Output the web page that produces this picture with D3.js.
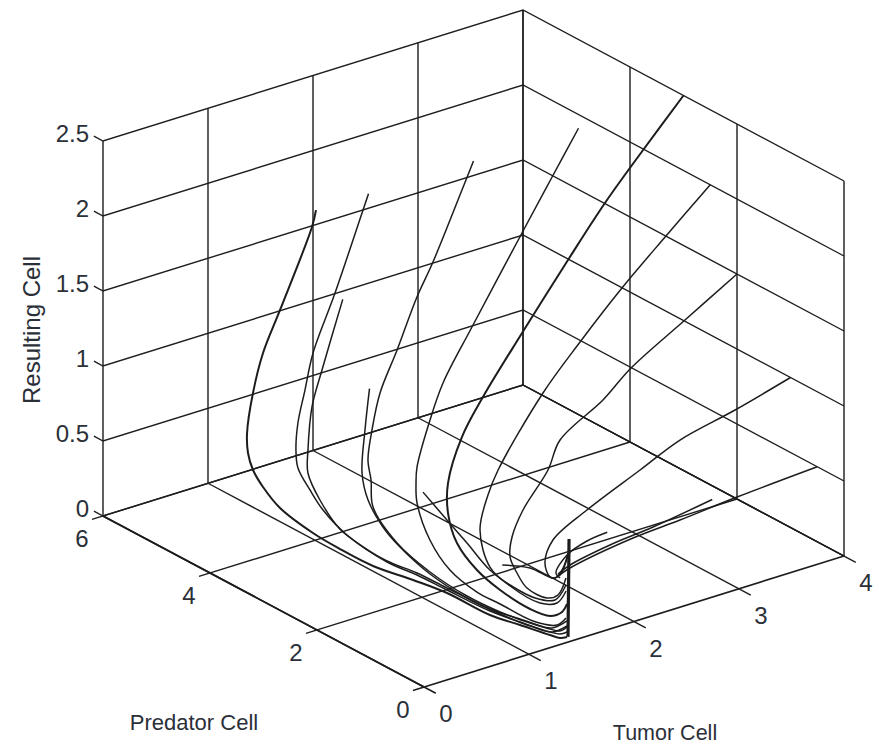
<!DOCTYPE html>
<html>
<head>
<meta charset="utf-8">
<script src="https://cdn.jsdelivr.net/npm/d3@7"></script>
<style>
    html, body { margin: 0; background: #fff; }
    text { font-family: "Liberation Sans", Arial, sans-serif; fill: #2b2f38; }
</style>
</head>
<body>
<div id="plot"></div>
<script>
// Axis ticks
const tumorTicks = [0, 1, 2, 3, 4];
const predatorTicks = [0, 2, 4, 6];
const resultingTicks = [0, 0.5, 1, 1.5, 2, 2.5];

// Trajectories, each row is [tumor, predator, resulting]
const trackA = [[0.5, 3, 2.5], [0.488, 3.052, 2.38], [0.342, 3.362, 1.8], [0.262, 3.523, 1.5], [0.258, 3.703, 1.2], [0.279, 3.855, 0.9], [0.313, 3.904, 0.75], [0.405, 3.991, 0.6], [0.527, 4.043, 0.45], [0.646, 3.959, 0.3], [0.731, 3.51, 0.2], [0.882, 3.302, 0.1], [0.974, 2.864, 0.05], [1.107, 2.378, 0.02], [1.198, 1.921, 0], [1.208, 1.138, 0], [1.276, 0.71, 0], [1.343, 0.282, 0], [1.37, 0.146, 0], [1.423, 0.12, 0]];
const trackB = [[1, 3, 2.5], [0.953, 3.01, 2.4], [0.779, 3.192, 1.85], [0.647, 3.344, 1.45], [0.604, 3.41, 1.2], [0.528, 3.393, 1], [0.55, 3.473, 0.8], [0.613, 3.559, 0.65], [0.691, 3.487, 0.5], [0.797, 3.452, 0.35], [0.913, 3.232, 0.2], [1.103, 2.855, 0.05], [1.221, 2.527, 0], [1.232, 1.988, 0], [1.253, 1.226, 0], [1.31, 0.775, 0], [1.377, 0.347, 0], [1.415, 0.234, 0], [1.479, 0.23, 0]];
const trackC = [[0.5, 2.5, 2], [0.34, 2.574, 1.55], [0.285, 2.654, 1.3], [0.284, 2.726, 1], [0.278, 2.715, 0.85], [0.384, 2.699, 0.65], [0.515, 2.583, 0.45], [0.71, 2.552, 0.3], [0.996, 2.645, 0.12], [1.243, 2.571, 0], [1.254, 2.032, 0], [1.276, 1.27, 0], [1.344, 0.842, 0], [1.411, 0.414, 0], [1.448, 0.3, 0], [1.536, 0.341, 0]];
const trackD = [[2, 3, 2.5], [1.908, 3.035, 2.32], [1.717, 3.202, 1.85], [1.649, 3.368, 1.6], [1.524, 3.494, 1.25], [1.36, 3.491, 1], [1.317, 3.557, 0.75], [1.293, 3.585, 0.55], [1.306, 3.553, 0.42], [1.25, 3.406, 0.28], [1.259, 2.974, 0.12], [1.282, 2.404, 0.03], [1.284, 1.717, 0], [1.303, 1.135, 0], [1.359, 0.684, 0], [1.434, 0.422, 0], [1.603, 0.474, 0]];
const trackE = [[0.5, 2, 1.5], [0.48, 2.045, 1.22], [0.485, 2.11, 0.92], [0.555, 2.135, 0.72], [0.712, 2.164, 0.5], [0.938, 2.326, 0.3], [1.226, 2.294, 0.05], [1.262, 1.673, 0], [1.28, 1.091, 0], [1.325, 0.618, 0], [1.389, 0.333, 0], [1.547, 0.363, 0]];
const trackF = [[3, 3, 2.5], [2.799, 3.099, 2.2], [2.579, 3.23, 1.85], [2.233, 3.486, 1.25], [2.02, 3.609, 0.9], [1.863, 3.544, 0.7], [1.728, 3.522, 0.42], [1.711, 3.507, 0.32], [1.661, 3.39, 0.22], [1.558, 2.947, 0.08], [1.441, 2.344, 0.02], [1.389, 1.736, 0], [1.393, 1.312, 0], [1.399, 0.709, 0], [1.498, 0.454, 0], [1.631, 0.547, 0]];
const trackG = [[4, 3, 2.5], [3.735, 3.235, 2.15], [3.5, 3.487, 1.8], [3.278, 3.742, 1.42], [2.974, 4.004, 0.95], [2.609, 4.019, 0.6], [2.37, 3.943, 0.4], [2.072, 3.618, 0.22], [1.903, 3.286, 0.12], [1.737, 2.793, 0.05], [1.637, 2.223, 0], [1.551, 1.622, 0], [1.517, 0.994, 0], [1.558, 0.701, 0], [1.675, 0.707, 0], [1.795, 0.85, 0]];
const trackH = [[4, 2.5, 2], [3.647, 2.651, 1.7], [3.32, 2.816, 1.4], [3.001, 2.973, 1.08], [2.677, 3.03, 0.8], [2.131, 2.797, 0.45], [2.008, 2.745, 0.32], [1.853, 2.59, 0.15], [1.715, 2.133, 0.02], [1.656, 1.641, 0], [1.644, 1.058, 0], [1.746, 0.941, 0], [1.936, 1.144, 0]];
const trackI = [[4, 2, 1.5], [3.71, 2.403, 1.18], [3.352, 2.709, 0.88], [3.127, 2.792, 0.7], [2.841, 3.033, 0.45], [2.684, 2.95, 0.3], [2.337, 2.736, 0.15], [2.102, 2.48, 0.07], [1.949, 2.217, 0.02], [1.844, 1.881, 0], [1.735, 1.48, 0], [1.743, 1.121, 0], [1.842, 1.111, 0], [2.082, 1.432, 0]];
const trackJ = [[4, 1, 1], [3.774, 1.593, 0.72], [3.477, 2.039, 0.5], [3.153, 2.149, 0.35], [2.67, 2.195, 0.18], [2.297, 2.098, 0.08], [2.091, 1.843, 0.02], [1.997, 1.564, 0], [2.016, 1.508, 0], [2.177, 1.673, 0], [2.376, 1.971, 0]];
const trackL = [[0.5, 1, 1], [1.006, 1.545, 0.6], [1.29, 1.728, 0.35], [1.512, 1.735, 0.12], [1.616, 1.564, 0.03], [1.671, 1.204, 0], [1.768, 1.021, 0], [2.003, 1.277, 0]];
const trackM = [[1, 0.5, 0.5], [1.387, 0.74, 0.35], [1.666, 0.858, 0.2], [1.911, 1.208, 0.1], [2.32, 1.861, 0.02]];
const trackN = [[2, 0.5, 0.5], [1.983, 0.845, 0.38], [1.925, 1.104, 0.25], [1.909, 1.28, 0.1], [1.962, 1.307, 0.05]];
const trackO = [[3, 0.5, 0.5], [2.673, 0.964, 0.3], [2.38, 1.195, 0.2], [2.084, 1.36, 0.1], [1.995, 1.41, 0.05]];
const trackP = [[4, 0.5, 0.5], [3.65, 1.313, 0.22], [3.167, 1.431, 0.15], [2.766, 1.522, 0.1], [2.151, 1.493, 0.04], [2.023, 1.465, 0.02]];
const spike = [[1.43, 0.115, 0], [1.44, 0.115, 0.65]];

const thinTracks = [trackB, trackC, trackD, trackE, trackF, trackH, trackI, trackJ, trackL, trackM, trackN, trackO, trackP];
const heavyTracks = [trackA, trackG];

const TUMOR_MAX = 4;
const PREDATOR_MAX = 6;
const RESULTING_MAX = 2.5;
const LINE_COLOR = "#1d1d1f";

const width = 879;
const height = 744;

// Oblique view: every data axis has its own screen scale, added up from the origin corner
const tumorX = d3.scaleLinear().domain([0, TUMOR_MAX]).range([424, 844]);
const tumorY = d3.scaleLinear().domain([0, TUMOR_MAX]).range([687, 556]);
const predatorX = d3.scaleLinear().domain([0, PREDATOR_MAX]).range([0, -321]);
const predatorY = d3.scaleLinear().domain([0, PREDATOR_MAX]).range([0, -171]);
const resultingY = d3.scaleLinear().domain([0, RESULTING_MAX]).range([0, -375]);

const projectX = d => tumorX(d[0]) + predatorX(d[1]);
const projectY = d => tumorY(d[0]) + predatorY(d[1]) + resultingY(d[2]);

const svg = d3.select("#plot")
    .append("svg")
    .attr("width", width)
    .attr("height", height);

// Slight softening, the reference is a scanned figure
svg.append("defs")
    .append("filter")
    .attr("id", "soft")
    .append("feGaussianBlur")
    .attr("stdDeviation", 0.45);

const plot = svg.append("g").attr("filter", "url(#soft)");

const straight = d3.line().x(projectX).y(projectY);
const smooth = d3.line().x(projectX).y(projectY).curve(d3.curveCatmullRom.alpha(0.5));

function drawPath(line, points, strokeWidth) {
    plot.append("path")
        .attr("d", line(points))
        .attr("fill", "none")
        .attr("stroke", LINE_COLOR)
        .attr("stroke-width", strokeWidth);
}

// Floor grid and axes
tumorTicks.forEach(t => {
    drawPath(straight, [[t, -0.22, 0], [t, PREDATOR_MAX, 0]], t === 0 ? 1.7 : 1.4);
});
predatorTicks.forEach(p => {
    drawPath(straight, [[-0.105, p, 0], [TUMOR_MAX, p, 0]], p === 0 ? 1.7 : 1.4);
});
drawPath(straight, [[0, 0, 0], [0, PREDATOR_MAX, 0]], 1.7);
drawPath(straight, [[TUMOR_MAX, 0, 0], [TUMOR_MAX, PREDATOR_MAX, 0]], 1.4);

// Back walls
resultingTicks.forEach(r => {
    drawPath(straight, [[0, PREDATOR_MAX + 0.17, r], [0, PREDATOR_MAX, r], [TUMOR_MAX, PREDATOR_MAX, r], [TUMOR_MAX, 0, r]], 1.4);
});
tumorTicks.forEach(t => {
    drawPath(straight, [[t, PREDATOR_MAX, 0], [t, PREDATOR_MAX, RESULTING_MAX]], 1.4);
});
predatorTicks.forEach(p => {
    drawPath(straight, [[TUMOR_MAX, p, 0], [TUMOR_MAX, p, RESULTING_MAX]], 1.4);
});

// Trajectories
thinTracks.forEach(track => drawPath(smooth, track, 1.5));
heavyTracks.forEach(track => drawPath(smooth, track, 2));
drawPath(straight, spike, 3.2);

// Tick labels
svg.selectAll("text.tumor")
    .data(tumorTicks)
    .enter()
    .append("text")
    .attr("class", "tumor")
    .attr("x", t => projectX([t, 0, 0]) + 22)
    .attr("y", t => projectY([t, 0, 0]) + 35)
    .attr("text-anchor", "middle")
    .attr("font-size", 24)
    .text(t => t);

svg.selectAll("text.predator")
    .data(predatorTicks)
    .enter()
    .append("text")
    .attr("class", "predator")
    .attr("x", p => projectX([0, p, 0]) - 21)
    .attr("y", p => projectY([0, p, 0]) + 31)
    .attr("text-anchor", "middle")
    .attr("font-size", 24)
    .text(p => p);

svg.selectAll("text.resulting")
    .data(resultingTicks)
    .enter()
    .append("text")
    .attr("class", "resulting")
    .attr("x", 89)
    .attr("y", r => projectY([0, PREDATOR_MAX, r]) + 1)
    .attr("text-anchor", "end")
    .attr("font-size", 24)
    .text(r => r);

// Axis titles
svg.append("text")
    .attr("x", 194)
    .attr("y", 730)
    .attr("text-anchor", "middle")
    .attr("font-size", 22)
    .text("Predator Cell");

svg.append("text")
    .attr("x", 665)
    .attr("y", 740)
    .attr("text-anchor", "middle")
    .attr("font-size", 21.5)
    .text("Tumor Cell");

svg.append("text")
    .attr("transform", "translate(40,330) rotate(-90)")
    .attr("text-anchor", "middle")
    .attr("font-size", 24)
    .text("Resulting Cell");
</script>
</body>
</html>
